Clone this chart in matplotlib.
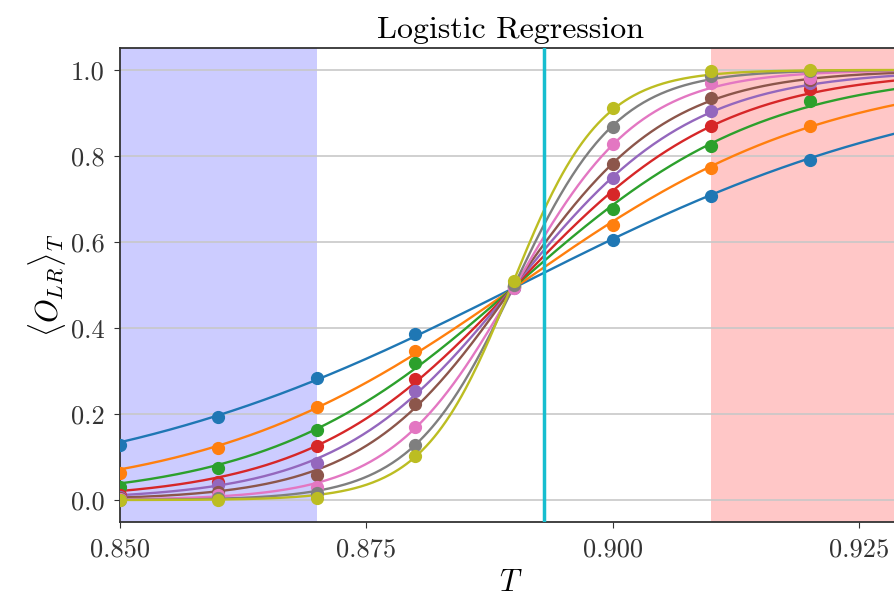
import matplotlib
matplotlib.use("Agg")
import matplotlib.pyplot as plt
import numpy as np

plt.rcParams['font.family'] = 'serif'
plt.rcParams['font.serif'] = ['cmr10', 'DejaVu Serif']
plt.rcParams['mathtext.fontset'] = 'cm'
plt.rcParams['axes.formatter.use_mathtext'] = True

# temperatures where the classifier output was averaged
temps = [0.85, 0.86, 0.87, 0.88, 0.89, 0.90, 0.91, 0.92, 0.93]

# <O_LR>_T for increasing lattice size (one list per size)
o_l1 = [0.128, 0.194, 0.283, 0.385, 0.497, 0.605, 0.707, 0.791, 0.862]
o_l2 = [0.063, 0.122, 0.217, 0.347, 0.497, 0.640, 0.771, 0.870, 0.932]
o_l3 = [0.030, 0.075, 0.163, 0.318, 0.497, 0.676, 0.824, 0.928, 0.965]
o_l4 = [0.012, 0.043, 0.126, 0.281, 0.496, 0.711, 0.870, 0.955, 0.980]
o_l5 = [0.008, 0.035, 0.087, 0.254, 0.494, 0.748, 0.905, 0.970, 0.986]
o_l6 = [0.004, 0.019, 0.058, 0.223, 0.496, 0.781, 0.934, 0.976, 0.990]
o_l7 = [0.002, 0.012, 0.031, 0.169, 0.493, 0.828, 0.969, 0.981, 0.993]
o_l8 = [0.001, 0.005, 0.016, 0.128, 0.500, 0.868, 0.985, 0.998, 0.999]
o_l9 = [0.000, 0.000, 0.004, 0.102, 0.510, 0.911, 0.998, 1.000, 1.000]
series = [o_l1, o_l2, o_l3, o_l4, o_l5, o_l6, o_l7, o_l8, o_l9]

t_low, t_high = 0.87, 0.91   # ordered / disordered training windows
t_crit = 0.893

colors = plt.rcParams['axes.prop_cycle'].by_key()['color']

fig = plt.figure(figsize=(8.95, 6.0), dpi=100)
ax = fig.add_axes([0.134, 0.13, 0.874, 0.79])

ax.axvspan(0.85, t_low, color='blue', alpha=0.2, lw=0, zorder=0)
ax.axvspan(t_high, 0.94, color='red', alpha=0.22, lw=0, zorder=0)

t = np.array(temps)
t_fine = np.linspace(0.85, 0.93, 400)
for i, vals in enumerate(series):
    p = np.clip(np.array(vals), 0.003, 0.997)
    # logistic fit: linear regression on the logit
    z = np.log(p / (1 - p))
    w = p * (1 - p)
    a, b = np.polyfit(t, z, 1, w=w)
    fit = 1.0 / (1.0 + np.exp(-(a * t_fine + b)))
    ax.plot(t_fine, fit, color=colors[i], lw=1.7, zorder=2)
    ax.plot(t, vals, 'o', color=colors[i], ms=8.5, zorder=3)

ax.axvline(t_crit, color=colors[9], lw=2.5, zorder=4)

ax.set_xlim(0.85, 0.9294)
ax.set_ylim(-0.051, 1.051)
ax.set_xticks([0.850, 0.875, 0.900, 0.925])
ax.set_xticklabels(['0.850', '0.875', '0.900', '0.925'])
ax.set_yticks([0.0, 0.2, 0.4, 0.6, 0.8, 1.0])
ax.set_yticklabels(['0.0', '0.2', '0.4', '0.6', '0.8', '1.0'])
ax.tick_params(labelsize=19, colors='#333333', length=4, pad=7)
ax.yaxis.grid(True, color='#c8c8c8', lw=1.2)
ax.set_axisbelow(True)
for s in ax.spines.values():
    s.set_color('#333333')
    s.set_linewidth(1.3)

ax.set_title('Logistic Regression', fontsize=23, pad=7)
ax.set_xlabel(r'$T$', fontsize=22, labelpad=6)
ax.set_ylabel(r'$\langle O_{LR}\rangle_T$', fontsize=22, labelpad=2)

fig.savefig('out.png', dpi=100)
